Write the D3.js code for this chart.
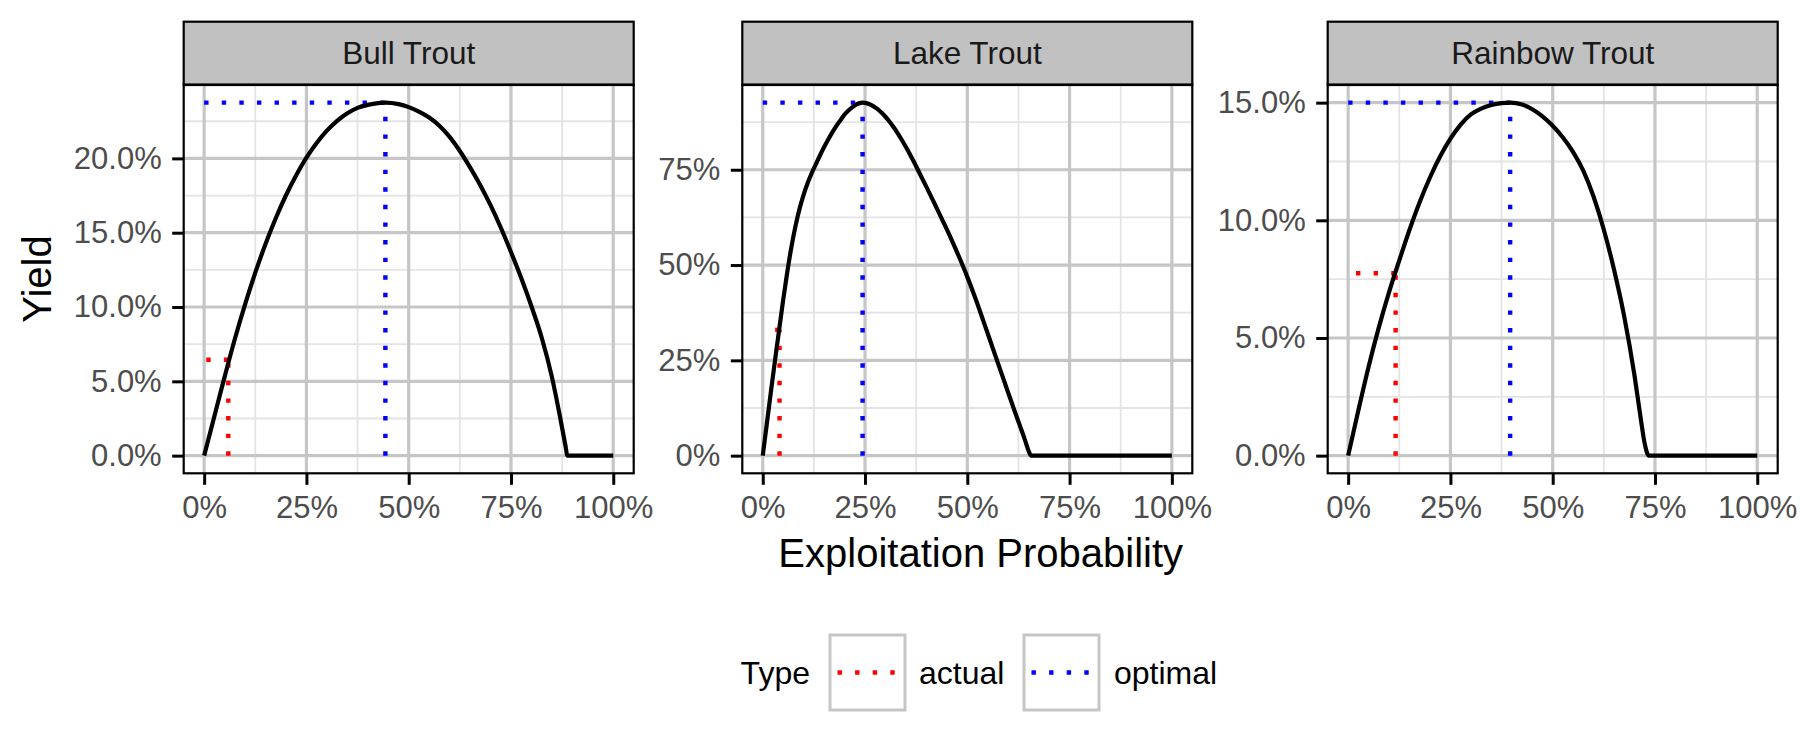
<!DOCTYPE html>
<html><head><meta charset="utf-8">
<script src="https://cdn.jsdelivr.net/npm/d3@7"></script>
<style>body{margin:0;background:#fff}text{font-family:"Liberation Sans",Arial,sans-serif}</style>
</head><body><svg id="c" width="1800" height="750"></svg>
<script>
// ---------------- data ----------------
const species = ["Bull Trout", "Lake Trout", "Rainbow Trout"];
const xTicks = [0, 0.25, 0.5, 0.75, 1];
const xTickLabels = ["0%", "25%", "50%", "75%", "100%"];

// Bull Trout yield curve (exploitation %, yield %)
const bullU = [0, 2.5, 5, 7.5, 10, 12.5, 15, 17.5, 20, 22.5, 25, 27.5, 30, 32.5, 35, 37.5, 40, 42.5, 44.3,
  47.5, 50, 52.5, 55, 57.5, 60, 62.5, 65, 67.5, 70, 72.5, 75, 77.5, 80, 82.5, 85, 87, 88.3, 88.8, 100];
const bullY = [0, 2.65, 5.3, 7.85, 10.18, 12.31, 14.24, 15.97, 17.52, 18.87, 20.05, 21.04, 21.87, 22.53, 23.04, 23.4, 23.6, 23.72, 23.75,
  23.65, 23.45, 23.15, 22.75, 22.2, 21.45, 20.5, 19.4, 18.2, 16.85, 15.35, 13.7, 11.95, 10.05, 7.95, 5.3, 2.6, 0.7, 0, 0];
// Lake Trout
const lakeU = [0, 1, 2, 3, 4, 5, 6, 7, 8, 9, 10, 11, 12, 13, 14, 15, 16, 17, 18, 19, 20, 21, 22, 23, 24, 24.4,
  25, 26, 27, 28, 29, 30, 31, 32, 33, 34, 35, 36, 37, 38, 40, 42, 44, 46, 48, 50, 52, 54, 56, 58, 60, 62, 64, 65, 65.6, 100];
const lakeY = [0, 8.4, 16.8, 25, 33, 40.9, 48.2, 54.7, 60.2, 64.8, 68.5, 71.6, 74.2, 76.5, 78.8, 80.95, 82.95, 84.8, 86.5, 88.0, 89.5, 90.6, 91.5, 92.2, 92.55, 92.6,
  92.55, 92.25, 91.7, 90.95, 90.0, 88.9, 87.6, 86.15, 84.55, 82.8, 80.95, 79.0, 76.95, 74.8, 70.5, 66.1, 61.6, 57.0, 52.1, 46.9, 41.2, 35.1, 28.9, 22.7, 16.5, 10.4, 4.4, 1.2, 0, 0];
// Rainbow Trout
const rainU = [0, 2.5, 5, 7.5, 10, 12.5, 15, 17.5, 20, 22.5, 25, 27.5, 30, 32.5, 35, 37.5, 39.6,
  42.5, 45, 47.5, 50, 52.5, 55, 57.5, 60, 62.5, 65, 67.5, 70, 71.5, 72.5, 73.5, 100];
const rainY = [0, 1.93, 3.78, 5.45, 6.95, 8.3, 9.6, 10.78, 11.82, 12.72, 13.47, 14.07, 14.5, 14.75, 14.9, 14.98, 15.0,
  14.92, 14.72, 14.42, 14.02, 13.52, 12.9, 12.1, 11.0, 9.6, 7.9, 5.9, 3.4, 1.6, 0.5, 0, 0];

const curveU = [bullU, lakeU, rainU];
const curveY = [bullY, lakeY, rainY];

const actualU = [5.9, 4.1, 11.6];
const actualY = [6.45, 33, 7.75];
const optimalU = [44.3, 24.4, 39.6];
const optimalY = [23.75, 92.6, 15.0];

const yTicks = [[0, 5, 10, 15, 20], [0, 25, 50, 75], [0, 5, 10, 15]];
const yTickLabels = [["0.0%", "5.0%", "10.0%", "15.0%", "20.0%"], ["0%", "25%", "50%", "75%"], ["0.0%", "5.0%", "10.0%", "15.0%"]];
const yMinor = [[2.5, 7.5, 12.5, 17.5, 22.5], [12.5, 37.5, 62.5, 87.5], [2.5, 7.5, 12.5]];
const xMinor = [0.125, 0.375, 0.625, 0.875];

const types = ["actual", "optimal"];
const typeColors = ["#FF0000", "#0000FF"];

// ---------------- layout ----------------
const svg = d3.select("#c");
const panelLefts = [183.7, 742.3, 1327.7];
const panelW = 450;
const stripTop = 21.7, stripBot = 84.5, plotTop = 85, plotBot = 473.3;
const majorCol = "#C6C6C6", minorCol = "#E4E4E4";
const dash = "4.4,13.2";

species.forEach((sp, i) => {
  const L = panelLefts[i];
  const x = d3.scaleLinear().domain([-0.05, 1.05]).range([L, L + panelW]);
  const ymax = d3.max(curveY[i]);
  const y = d3.scaleLinear().domain([-0.05 * ymax, 1.05 * ymax]).range([plotBot, plotTop]);
  const g = svg.append("g");

  g.append("rect").attr("x", L).attr("y", plotTop).attr("width", panelW).attr("height", plotBot - plotTop).attr("fill", "#fff");

  // minor grid
  g.append("g").selectAll("line").data(xMinor).join("line")
    .attr("x1", d => x(d)).attr("x2", d => x(d)).attr("y1", plotTop).attr("y2", plotBot)
    .attr("stroke", minorCol).attr("stroke-width", 1.8);
  g.append("g").selectAll("line").data(yMinor[i]).join("line")
    .attr("y1", d => y(d)).attr("y2", d => y(d)).attr("x1", L).attr("x2", L + panelW)
    .attr("stroke", minorCol).attr("stroke-width", 1.8);
  // major grid
  g.append("g").selectAll("line").data(xTicks).join("line")
    .attr("x1", d => x(d)).attr("x2", d => x(d)).attr("y1", plotTop).attr("y2", plotBot)
    .attr("stroke", majorCol).attr("stroke-width", 3.2);
  g.append("g").selectAll("line").data(yTicks[i]).join("line")
    .attr("y1", d => y(d)).attr("y2", d => y(d)).attr("x1", L).attr("x2", L + panelW)
    .attr("stroke", majorCol).attr("stroke-width", 3.2);

  // reference segments (percent units -> fractions for x)
  const segs = [
    {t: 0, x1: actualU[i], y1: actualY[i], x2: 0, y2: actualY[i]},
    {t: 0, x1: actualU[i], y1: 0, x2: actualU[i], y2: actualY[i]},
    {t: 1, x1: 0, y1: optimalY[i], x2: optimalU[i], y2: optimalY[i]},
    {t: 1, x1: optimalU[i], y1: 0, x2: optimalU[i], y2: optimalY[i]}
  ];
  g.append("g").selectAll("line").data(segs).join("line")
    .attr("x1", d => x(d.x1 / 100)).attr("y1", d => y(d.y1)).attr("x2", d => x(d.x2 / 100)).attr("y2", d => y(d.y2))
    .attr("stroke", d => typeColors[d.t]).attr("stroke-width", 4.4).attr("stroke-dasharray", dash);

  // yield curve
  const pts = curveU[i].map((u, k) => [u / 100, curveY[i][k]]);
  g.append("path").datum(pts)
    .attr("d", d3.line().x(d => x(d[0])).y(d => y(d[1])).curve(d3.curveMonotoneX))
    .attr("fill", "none").attr("stroke", "#000").attr("stroke-width", 4.2).attr("stroke-linejoin", "round");

  // panel border
  g.append("rect").attr("x", L).attr("y", plotTop).attr("width", panelW).attr("height", plotBot - plotTop)
    .attr("fill", "none").attr("stroke", "#000").attr("stroke-width", 2.2);

  // strip
  g.append("rect").attr("x", L).attr("y", stripTop).attr("width", panelW).attr("height", stripBot - stripTop)
    .attr("fill", "#C1C1C1").attr("stroke", "#000").attr("stroke-width", 2.2);
  g.append("text").attr("x", L + panelW / 2).attr("y", (stripTop + stripBot) / 2).attr("dy", "0.36em")
    .attr("text-anchor", "middle").attr("font-size", 31.5).attr("fill", "#1A1A1A").text(sp);

  // axes
  const xa = g.append("g").attr("transform", `translate(0,${plotBot})`)
    .call(d3.axisBottom(x).tickValues(xTicks).tickFormat((d, k) => xTickLabels[k]).tickSize(11.5).tickPadding(11));
  const ya = g.append("g").attr("transform", `translate(${L},0)`)
    .call(d3.axisLeft(y).tickValues(yTicks[i]).tickFormat((d, k) => yTickLabels[i][k]).tickSize(11.5).tickPadding(10.5));
  [xa, ya].forEach(a => {
    a.select(".domain").remove();
    a.selectAll(".tick line").attr("stroke", "#000").attr("stroke-width", 3);
    a.selectAll(".tick text").attr("font-size", 31).attr("fill", "#4D4D4D")
      .attr("font-family", '"Liberation Sans",Arial,sans-serif');
  });
});

// axis titles
svg.append("text").attr("x", 980.7).attr("y", 566.5).attr("text-anchor", "middle")
  .attr("font-size", 40).attr("fill", "#000").text("Exploitation Probability");
svg.append("text").attr("transform", "translate(50.5,279) rotate(-90)").attr("text-anchor", "middle")
  .attr("font-size", 40).attr("fill", "#000").text("Yield");

// legend
const legY = 635, keyS = 75;
svg.append("text").attr("x", 740.6).attr("y", 684).attr("font-size", 32).attr("fill", "#000").text("Type");
const keyX = [830, 1024];
const labX = [919, 1114];
types.forEach((t, k) => {
  svg.append("rect").attr("x", keyX[k]).attr("y", legY).attr("width", keyS).attr("height", keyS)
    .attr("fill", "#fff").attr("stroke", "#C6C6C6").attr("stroke-width", 3);
  svg.append("line").attr("x1", keyX[k] + 0.1 * keyS).attr("x2", keyX[k] + 0.9 * keyS)
    .attr("y1", legY + keyS / 2).attr("y2", legY + keyS / 2)
    .attr("stroke", typeColors[k]).attr("stroke-width", 4.4).attr("stroke-dasharray", dash);
  svg.append("text").attr("x", labX[k]).attr("y", 684).attr("font-size", 32).attr("fill", "#000").text(t);
});
</script></body></html>
